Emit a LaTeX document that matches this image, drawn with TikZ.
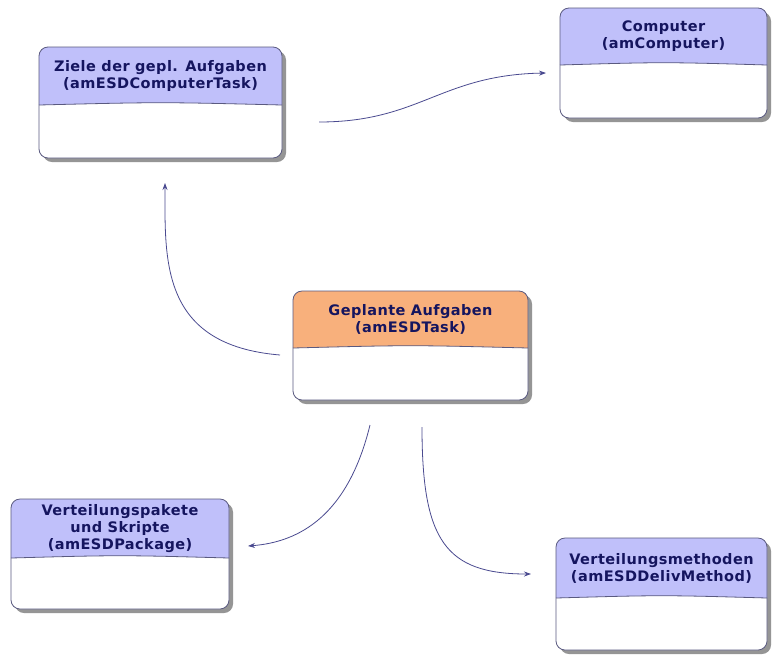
\documentclass[tikz,border=0pt]{standalone}
\usepackage{fontspec}
\setmainfont{DejaVu Sans}
\newfontfamily\boxfont[LetterSpace=3]{DejaVu Sans}
\usetikzlibrary{arrows.meta}
\definecolor{hdrblue}{HTML}{C0C0FA}
\definecolor{hdrorange}{HTML}{F8B07C}
\definecolor{borderc}{HTML}{5A5A80}
\definecolor{shadowc}{HTML}{959595}
\definecolor{txtc}{HTML}{15155F}
\definecolor{arrowc}{HTML}{4A4A90}
\tikzset{
  boxtext/.style={text=txtc, font=\boxfont\fontsize{14.5}{17}\selectfont\bfseries, align=center, inner sep=0pt},
  conn/.style={arrowc, line width=0.8pt, -{Stealth[length=7pt,width=5pt]}},
}
% #1 name, #2 x1, #3 y1, #4 x2, #5 ysep, #6 y2, #7 fill, #8 text
\newcommand\umlbox[8]{%
  \fill[shadowc, rounded corners=9pt] (#2+4,#3+4) rectangle (#4+4,#6+4);
  \fill[white, rounded corners=9pt] (#2,#3) rectangle (#4,#6);
  \begin{scope}
    \clip[rounded corners=9pt] (#2,#3) rectangle (#4,#6);
    \fill[#7] (#2,#3) -- (#4,#3) -- (#4,#5) .. controls ({(#2+#4)/2},#5-3) .. (#2,#5) -- cycle;
  \end{scope}
  \draw[borderc, line width=0.8pt] (#4,#5) .. controls ({(#2+#4)/2},#5-3) .. (#2,#5);
  \draw[borderc, line width=0.8pt, rounded corners=9pt] (#2,#3) rectangle (#4,#6);
  \node[boxtext] (#1) at ({(#2+#4)/2},{(#3+#5)/2}) {#8};
  \node[inner sep=0pt, minimum width={(#4-#2)*1pt}, minimum height={(#6-#3)*1pt}] (#1box) at ({(#2+#4)/2},{(#3+#6)/2}) {};
}
\begin{document}
\begin{tikzpicture}[x=1pt,y=-1pt]
\useasboundingbox[fill=white] (0,0) rectangle (779,654);
\umlbox{ziele}{39}{47}{282}{105}{158}{hdrblue}{Ziele der gepl. Aufgaben\\(amESDComputerTask)}
\umlbox{comp}{560}{8}{767}{65}{118}{hdrblue}{Computer\\(amComputer)}
\umlbox{task}{293}{291}{528}{348}{400}{hdrorange}{Geplante Aufgaben\\(amESDTask)}
\umlbox{pkg}{11}{499}{229}{558}{609}{hdrblue}{Verteilungspakete\\und Skripte\\(amESDPackage)}
\umlbox{meth}{556}{538}{767}{598}{650}{hdrblue}{Verteilungsmethoden\\(amESDDelivMethod)}
\coordinate (a1s) at (319,122);
\coordinate (a1e) at (546,73);
\coordinate (a2s) at (280,355);
\coordinate (a2e) at (165,183);
\coordinate (a3s) at (370,425);
\coordinate (a3e) at (248,546);
\coordinate (a4s) at (422,427);
\coordinate (a4e) at (531,574);
\draw[conn] (a1s) .. controls (420,122) and (440,75) .. (a1e);
\draw[conn] (a2s) .. controls (160,345) and (165,260) .. (a2e);
\draw[conn] (a3s) .. controls (348,515) and (300,542) .. (a3e);
\draw[conn] (a4s) .. controls (422,540) and (445,574) .. (a4e);
\end{tikzpicture}
\end{document}
